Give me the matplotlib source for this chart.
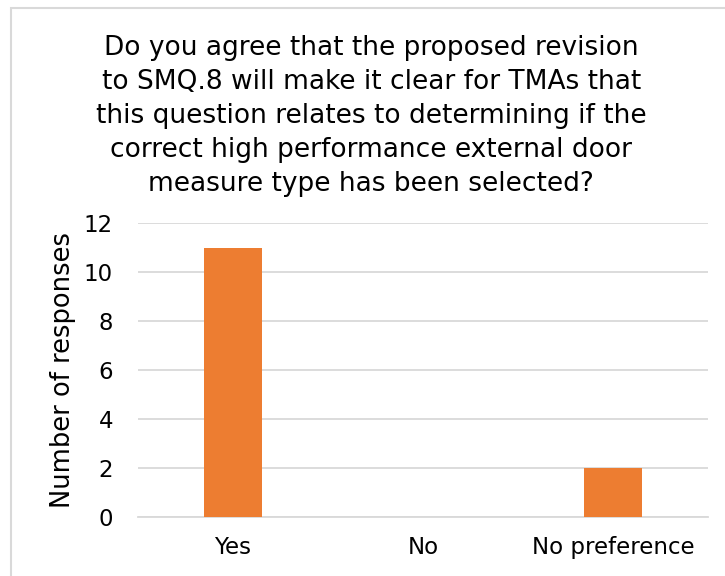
import matplotlib.pyplot as plt
from matplotlib.patches import Rectangle

categories = ['Yes', 'No', 'No preference']
responses = [11, 0, 2]
yticks = [0, 2, 4, 6, 8, 10, 12]
title = ('Do you agree that the proposed revision\n'
         'to SMQ.8 will make it clear for TMAs that\n'
         'this question relates to determining if the\n'
         'correct high performance external door\n'
         'measure type has been selected?')

plt.rcParams['font.family'] = ['Verdana', 'DejaVu Sans']

fig = plt.figure(figsize=(7.25, 5.76), dpi=100)
# chart area border (right/bottom edges fall outside the image)
fig.patches.append(Rectangle((10.5 / 725, 1 - 590 / 576), 730 / 725, 582.5 / 576,
                             transform=fig.transFigure, fill=False,
                             edgecolor='#D9D9D9', linewidth=1.5))

ax = fig.add_axes([138 / 725, 1 - 517 / 576, 570 / 725, 294 / 576])
x = range(len(categories))
ax.bar(x, responses, width=0.31, color='#ED7D31', zorder=3)
ax.set_xlim(-0.5, 2.5)
ax.set_ylim(0, 12)
ax.set_yticks(yticks)
ax.set_xticks(list(x))
ax.set_xticklabels(categories)
ax.tick_params(axis='both', length=0, labelsize=16.5, colors='black')
ax.tick_params(axis='y', pad=18)
ax.tick_params(axis='x', pad=14)
ax.grid(axis='y', color='#D9D9D9', linewidth=1.3, zorder=0)
for s in ['top', 'right', 'left']:
    ax.spines[s].set_visible(False)
ax.spines['bottom'].set_color('#D9D9D9')
ax.spines['bottom'].set_linewidth(1.3)
ax.set_ylabel('Number of responses', fontsize=18.5, labelpad=6)

fig.text(0.512, 1 - 35 / 576, title, ha='center', va='top', fontsize=19,
         linespacing=1.4)

fig.savefig('out.png', dpi=100)
